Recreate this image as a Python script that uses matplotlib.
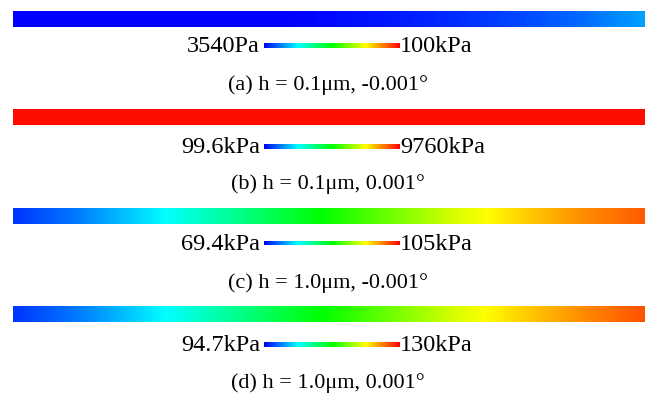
import numpy as np
import matplotlib
matplotlib.use("Agg")
import matplotlib.pyplot as plt
from matplotlib.colors import LinearSegmentedColormap, Normalize
from matplotlib.cm import ScalarMappable

plt.rcParams['font.family'] = ['Liberation Serif', 'DejaVu Serif']

# relative position along the film (0 = left end, 1 = right end)
position = [0.0, 0.1, 0.2, 0.3, 0.4, 0.5, 0.6, 0.7, 0.8, 0.9, 1.0]

# pressure along the film, kPa
pressure_a = [3.54, 3.54, 3.54, 3.54, 3.54, 4.5, 5.95, 7.9, 10.3, 13.7, 19.0]
pressure_b = [9620, 9620, 9620, 9620, 9620, 9620, 9620, 9620, 9620, 9620, 9620]
pressure_c = [71.2, 73.7, 76.9, 80.4, 84.0, 87.6, 91.1, 94.7, 97.5, 100.0, 101.8]
pressure_d = [96.5, 98.9, 102.1, 105.6, 109.2, 112.7, 116.2, 119.8, 122.6, 125.1, 127.2]

# legend range (kPa) and labels
range_min = [3.54, 99.6, 69.4, 94.7]
range_max = [100.0, 9760.0, 105.0, 130.0]
min_labels = ["3540Pa", "99.6kPa", "69.4kPa", "94.7kPa"]
max_labels = ["100kPa", "9760kPa", "105kPa", "130kPa"]
captions = ["(a) h = 0.1μm, -0.001°", "(b) h = 0.1μm, 0.001°",
            "(c) h = 1.0μm, -0.001°", "(d) h = 1.0μm, 0.001°"]

series = [pressure_a, pressure_b, pressure_c, pressure_d]

cmap = LinearSegmentedColormap.from_list(
    "fluent", [(0, 0, 1), (0, 1, 1), (0, 1, 0), (1, 1, 0), (1, 0, 0)])

W, H = 649, 394
fig = plt.figure(figsize=(W / 100, H / 100), dpi=100)


def px_axes(x0, y0, x1, y1):
    return fig.add_axes([x0 / W, 1 - y1 / H, (x1 - x0) / W, (y1 - y0) / H])


bar_tops = [11, 109, 208, 306]
legend_y = [45, 146, 243, 344]
caption_y = [84, 183, 282, 382]

for i in range(4):
    norm = Normalize(range_min[i], range_max[i])
    ax = px_axes(13, bar_tops[i], 645, bar_tops[i] + 16)
    data = np.array(series[i])[None, :]
    dx = (position[1] - position[0]) / 2
    ax.imshow(data, cmap=cmap, norm=norm, aspect='auto',
              interpolation='bilinear', interpolation_stage='data',
              extent=[position[0] - dx, position[-1] + dx, 0, 1])
    ax.set_xlim(position[0], position[-1])
    ax.set_ylim(0, 1)
    ax.axis('off')

    cax = px_axes(264, legend_y[i] - 2.5, 400, legend_y[i] + 2.5)
    cb = fig.colorbar(ScalarMappable(norm=norm, cmap=cmap), cax=cax,
                      orientation='horizontal')
    cb.set_ticks([])
    cb.outline.set_visible(False)

    fig.text(260 / W, 1 - (legend_y[i] + 1.5) / H, min_labels[i], ha='right',
             va='center', fontsize=17.5)
    fig.text(400 / W, 1 - (legend_y[i] + 1.5) / H, max_labels[i], ha='left',
             va='center', fontsize=17.5)
    fig.text(328 / W, 1 - (caption_y[i] + 1.5) / H, captions[i], ha='center',
             va='center', fontsize=16)

fig.savefig("out.png", dpi=100)
